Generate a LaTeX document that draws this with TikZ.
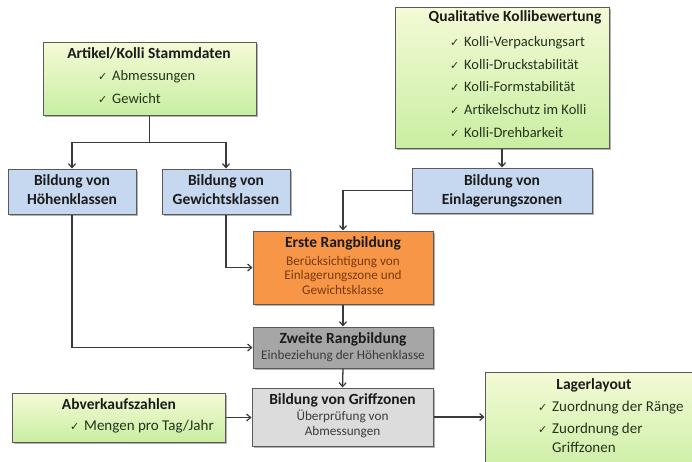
\documentclass[tikz,border=0pt]{standalone}
\usepackage{fontspec}
\setmainfont{Carlito}
\newfontfamily\symf{DejaVu Sans}
\usetikzlibrary{arrows.meta,shadows}
\definecolor{bordc}{HTML}{5A5A5A}
\definecolor{gtop}{HTML}{F4FAD6}
\definecolor{gbot}{HTML}{C9EEA2}
\definecolor{bluef}{HTML}{C6D8EF}
\definecolor{orangef}{HTML}{F79646}
\definecolor{dgrayf}{HTML}{A6A6A6}
\definecolor{lgrayf}{HTML}{DCDCDC}
\definecolor{txt}{HTML}{1B1B1B}
\definecolor{itxt}{HTML}{24331A}
\definecolor{otxt}{HTML}{7A3A10}
\definecolor{gtxt}{HTML}{3A3A3A}
\definecolor{linec}{HTML}{3A3A3A}
\newcommand{\ckm}{\makebox[14pt][l]{\symf\fontsize{11}{11}\selectfont ✓}}
\begin{document}
\begin{tikzpicture}[x=1pt,y=-1pt,
  box/.style={draw=bordc, line width=1pt, inner sep=0pt,
    drop shadow={shadow xshift=1.5pt,shadow yshift=-1.5pt,opacity=0.3,fill=black}},
  greenbox/.style={box, top color=gtop, bottom color=gbot},
  bluebox/.style={box, fill=bluef},
  orangebox/.style={box, fill=orangef},
  dgraybox/.style={box, fill=dgrayf},
  lgraybox/.style={box, fill=lgrayf},
  ttl/.style={font=\bfseries\fontsize{15.5}{18}\selectfont, text=txt, inner sep=0pt, anchor=mid},
  sub/.style={font=\fontsize{13.2}{15}\selectfont, inner sep=0pt, anchor=mid},
  itm/.style={font=\fontsize{14.5}{17}\selectfont, text=itxt, inner sep=0pt, anchor=mid west},
  bitm/.style={font=\fontsize{15}{18}\selectfont, text=itxt, inner sep=0pt, anchor=mid west},
  conn/.style={draw=linec, line width=1.3pt},
  arr/.style={conn, -{Straight Barb[length=4pt,width=7pt,line width=1.2pt]}}
]
\useasboundingbox (0,0) rectangle (692,461);
\clip (0,0) rectangle (692,461);

% boxes
\node[greenbox, minimum width=213pt, minimum height=73pt] (art) at (149.5,78.5) {};
\node[greenbox, minimum width=214pt, minimum height=141pt] (q) at (502,77.5) {};
\node[bluebox, minimum width=128pt, minimum height=45pt] (hk) at (72,191.5) {};
\node[bluebox, minimum width=128pt, minimum height=45pt] (gk) at (226,191.5) {};
\node[bluebox, minimum width=180pt, minimum height=45pt] (ez) at (502,190.5) {};
\node[orangebox, minimum width=180pt, minimum height=73pt] (erste) at (343,267.5) {};
\node[dgraybox, minimum width=180pt, minimum height=41pt] (zweite) at (343,347.5) {};
\node[lgraybox, minimum width=181pt, minimum height=58pt] (gz) at (342.5,417) {};
\node[greenbox, minimum width=213pt, minimum height=49pt] (ab) at (118.5,417.5) {};
\node[greenbox, minimum width=230pt, minimum height=106pt] (ll) at (600,425) {};

% texts: Artikel
\node[ttl] (art-t) at (149,56) {Artikel/Kolli Stammdaten};
\node[itm] (art-1) at (98,78) {\ckm Abmessungen};
\node[itm] (art-2) at (98,101) {\ckm Gewicht};

% Qualitative
\node[ttl] (q-t) at (515,19) {Qualitative Kollibewertung};
\node[itm] (q-1) at (450,44) {\ckm Kolli-Verpackungsart};
\node[itm] (q-2) at (450,67) {\ckm Kolli-Druckstabilität};
\node[itm] (q-3) at (450,89) {\ckm Kolli-Formstabilität};
\node[itm] (q-4) at (450,112) {\ckm Artikelschutz im Kolli};
\node[itm] (q-5) at (450,135) {\ckm Kolli-Drehbarkeit};

% blue boxes
\node[ttl] (hk-1) at (72,183) {Bildung von};
\node[ttl] (hk-2) at (72,202) {Höhenklassen};
\node[ttl] (gk-1) at (226,183) {Bildung von};
\node[ttl] (gk-2) at (226,202) {Gewichtsklassen};
\node[ttl] (ez-1) at (502,183) {Bildung von};
\node[ttl] (ez-2) at (502,202) {Einlagerungszonen};

% Erste
\node[ttl] (er-t) at (343,245) {Erste Rangbildung};
\node[sub, text=otxt] (er-1) at (343,263) {Berücksichtigung von};
\node[sub, text=otxt] (er-2) at (343,277.5) {Einlagerungszone und};
\node[sub, text=otxt] (er-3) at (343,292) {Gewichtsklasse};

% Zweite
\node[ttl] (zw-t) at (343,341) {Zweite Rangbildung};
\node[sub, text=gtxt] (zw-1) at (343,357) {Einbeziehung der Höhenklasse};

% Griffzonen
\node[ttl] (gz-t) at (342.5,402) {Bildung von Griffzonen};
\node[sub, text=gtxt] (gz-1) at (342.5,418) {Überprüfung von};
\node[sub, text=gtxt] (gz-2) at (342.5,433) {Abmessungen};

% Abverkauf
\node[ttl] (ab-t) at (119,407) {Abverkaufszahlen};
\node[bitm] (ab-1) at (70,428) {\ckm Mengen pro Tag/Jahr};

% Lagerlayout
\node[ttl] (ll-t) at (594,387) {Lagerlayout};
\node[bitm] (ll-1) at (538,409) {\ckm Zuordnung der Ränge};
\node[bitm] (ll-2) at (538,431) {\ckm Zuordnung der};
\node[bitm] (ll-3) at (552,450) {Griffzonen};

% connectors
\draw[conn] (art.south) -- ++(0,27) coordinate (split);
\draw[arr] (split) -| (hk.north);
\draw[arr] (split) -| (gk.north);
\draw[arr] (q.south) -- (ez.north);
\draw[arr] (ez.west) -| (erste.north);
\draw[arr] (gk.south) |- (erste.west);
\draw[arr] (hk.south) |- (zweite.west);
\draw[arr] (erste.south) -- (zweite.north);
\draw[arr] (zweite.south) -- (gz.north);
\draw[arr] (ab.east) -- (ab.east -| gz.west);
\draw[arr] (gz.east) -- (gz.east -| ll.west);
\end{tikzpicture}
\end{document}
